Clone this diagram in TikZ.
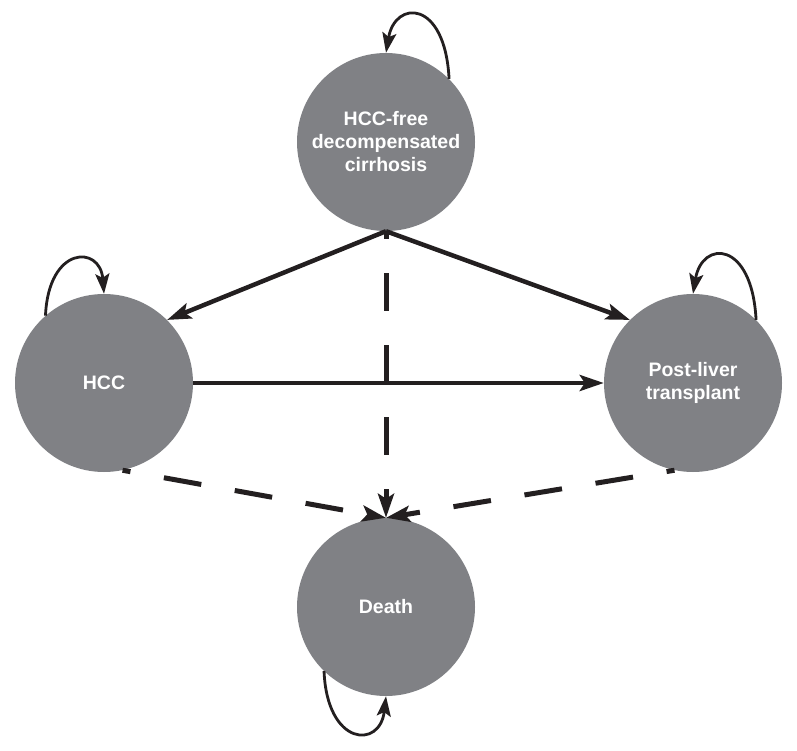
\documentclass[tikz,border=0pt]{standalone}
\usepackage{fontspec}
\setmainfont{Liberation Sans}
\usetikzlibrary{arrows.meta}
\definecolor{stategray}{RGB}{128,129,133}
\definecolor{ink}{RGB}{35,31,32}
\begin{document}
\begin{tikzpicture}[x=1pt,y=-1pt,
  state/.style={circle,fill=stategray,minimum size=178pt,inner sep=0pt,
    text=white,font=\fontsize{19.5}{23}\selectfont\bfseries,align=center},
  trans/.style={draw=ink,line width=4.5pt,-{Stealth[length=24pt,width=16pt,inset=5pt]}},
  dashtrans/.style={trans,line width=5pt,dash pattern=on 38pt off 34pt},
  selfloop/.style={draw=ink,line width=2.8pt,-{Stealth[length=20pt,width=14pt,inset=4pt]}}]
\useasboundingbox (0,0) rectangle (797,751);
\node[state] (top) at (386,142) {HCC-free\\decompensated\\cirrhosis};
\node[state] (hcc) at (104,383) {HCC};
\node[state] (plt) at (693,383) {Post-liver\\transplant};
\node[state] (death) at (386,607) {Death};
% solid transitions
\draw[trans] (top.south) -- (hcc.45);
\draw[trans] (top.south) -- (plt.135);
\draw[trans] (hcc.east) -- (plt.west);
% dashed transitions to death
\draw[dashtrans,dash phase=30pt] (top.south) -- (death.north);
\draw[dashtrans,dash phase=30pt] (hcc.-78) -- (death.north);
\draw[dashtrans,dash phase=30pt] (plt.-102) -- (death.north);
% self loops
\draw[selfloop] (top.45) .. controls +(-4,-80) and +(9,-53) .. (top.north);
\draw[selfloop] (plt.45) .. controls +(-4,-80) and +(9,-54) .. (plt.north);
\draw[selfloop] (hcc.131) .. controls +(3,-70) and +(-4,-49) .. (hcc.north);
\draw[selfloop] (death.226) .. controls +(3,75) and +(-6,53) .. (death.south);
\end{tikzpicture}
\end{document}
